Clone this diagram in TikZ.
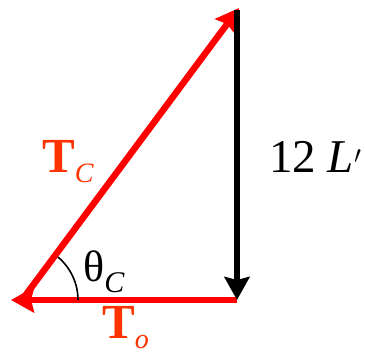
\documentclass[tikz,border=0pt]{standalone}
\usepackage{fontspec}
\setmainfont{Liberation Serif}
\usetikzlibrary{arrows.meta}
\definecolor{vecred}{HTML}{FF0000}
\definecolor{lblred}{HTML}{FF3300}

\begin{document}
\begin{tikzpicture}[
    x=1pt, y=1pt,
    vec/.style={line width=6.5pt, -{Stealth[length=23pt, width=25pt, inset=3pt]}},
    lbl/.style={anchor=base west, inner sep=0pt},
]
  \useasboundingbox (0,0) rectangle (365,352);
  \coordinate (tipo)  at (11,52);
  \coordinate (vtx)   at (22,52);
  \coordinate (foot)  at (237,52);
  \coordinate (top)   at (239,344);
  \coordinate (vtop)  at (237,342);
  \draw[vec, vecred] (foot) -- (tipo);
  \draw[vec, vecred] (vtx) -- (top);
  \draw[vec, black, line cap=butt] (vtop) -- (foot);
  \draw[line width=1.6pt] ([shift={(0:56)}]vtx) arc (0:50:56);
  \node[lbl, text=lblred] (tc) at (42,179)
    {\fontsize{49}{49}\selectfont\bfseries T\raisebox{-10pt}{\fontsize{28}{28}\selectfont\mdseries\itshape C}};
  \node[lbl] (theta) at (83,70)
    {\fontsize{44}{44}\selectfont θ\raisebox{-11pt}{\fontsize{30}{30}\selectfont\itshape C}};
  \node[lbl, text=lblred] (to) at (102,13)
    {\fontsize{49}{49}\selectfont\bfseries T\raisebox{-10pt}{\fontsize{28}{28}\selectfont\mdseries\itshape o}};
  \node[lbl] (len) at (269,179)
    {\fontsize{47}{47}\selectfont 12 \textit{L}$'$};
\end{tikzpicture}
\end{document}
